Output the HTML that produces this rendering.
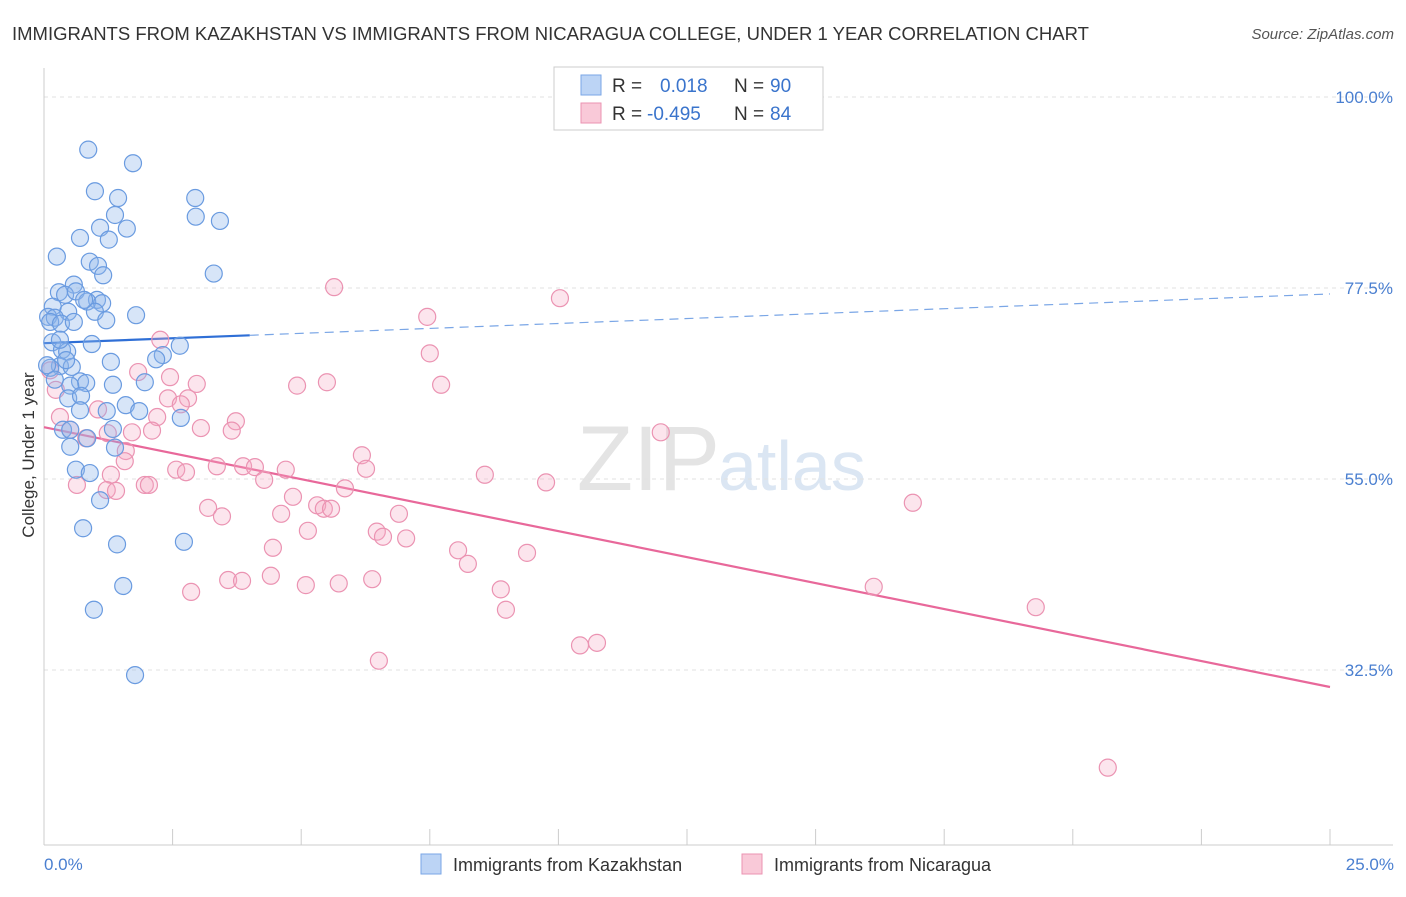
<!DOCTYPE html>
<html><head><meta charset="utf-8"><style>
body{margin:0;background:#fff;font-family:"Liberation Sans",sans-serif;}
svg text{font-family:"Liberation Sans",sans-serif;}
</style></head><body>
<svg id="chart" width="1406" height="892">
<text x="12" y="40" font-size="18.5" fill="#333">IMMIGRANTS FROM KAZAKHSTAN VS IMMIGRANTS FROM NICARAGUA COLLEGE, UNDER 1 YEAR CORRELATION CHART</text>
<text x="1394" y="39" font-size="15" fill="#555" text-anchor="end" font-style="italic">Source: ZipAtlas.com</text>
<text x="720" y="490" font-size="92" fill="#e4e4e4" text-anchor="end" font-family="Liberation Serif">ZIP</text>
<text x="718" y="490" font-size="70" fill="#dbe6f3">atlas</text>
<g id="grid"></g>
<g id="axes"></g>
<g id="trend"></g>
<g id="pts"></g>
<text transform="translate(34,455) rotate(-90)" font-size="17" fill="#333" text-anchor="middle">College, Under 1 year</text>
<text x="44" y="870" font-size="17" fill="#4a7fd0">0.0%</text>
<text x="1394" y="870" font-size="17" fill="#4a7fd0" text-anchor="end">25.0%</text>
<g>
<rect x="554" y="67" width="269" height="63" fill="#fff" stroke="#ccc"/>
<rect x="581" y="75" width="20" height="20" fill="#bcd4f5" stroke="#7aa6e6"/>
<rect x="581" y="103" width="20" height="20" fill="#f9c9d8" stroke="#eb93b2"/>
<text x="612" y="92" font-size="19" fill="#333">R =</text>
<text x="660" y="92" font-size="19" fill="#3a74cc">0.018</text>
<text x="734" y="92" font-size="19" fill="#333">N =</text>
<text x="770" y="92" font-size="19" fill="#3a74cc">90</text>
<text x="612" y="120" font-size="19" fill="#333">R =</text>
<text x="647" y="120" font-size="19" fill="#3a74cc">-0.495</text>
<text x="734" y="120" font-size="19" fill="#333">N =</text>
<text x="770" y="120" font-size="19" fill="#3a74cc">84</text>
</g>
<g>
<rect x="421" y="854" width="20" height="20" fill="#bcd4f5" stroke="#7aa6e6"/>
<text x="453" y="871" font-size="18" fill="#333">Immigrants from Kazakhstan</text>
<rect x="742" y="854" width="20" height="20" fill="#f9c9d8" stroke="#eb93b2"/>
<text x="774" y="871" font-size="18" fill="#333">Immigrants from Nicaragua</text>
</g>
</svg>
<script>
const yTicks=[100,77.5,55,32.5];
const yTickLabels=["100.0%","77.5%","55.0%","32.5%"];
const blueX=[0.86,1.73,0.99,1.44,2.94,1.38,2.95,3.42,1.09,1.61,0.70,1.26,0.25,0.89,1.05,3.30,1.15,0.58,0.29,0.41,0.62,1.03,0.84,1.13,1.79,0.17,0.47,0.99,1.21,0.08,0.21,0.12,0.33,0.58,0.93,0.16,0.35,0.45,2.64,2.31,2.18,1.30,0.31,0.12,0.54,0.70,0.82,0.51,1.96,1.34,0.47,0.72,1.59,1.22,1.85,0.70,0.37,0.51,2.66,0.84,1.34,0.51,1.38,0.62,0.89,1.09,0.76,1.42,2.72,1.54,0.97,1.77,0.06,0.21,0.43,0.78,0.31];
const blueY=[93.8,92.2,88.9,88.1,88.1,86.1,85.9,85.4,84.6,84.5,83.4,83.2,81.2,80.6,80.1,79.2,79.0,77.9,77.0,76.7,77.1,76.1,75.9,75.7,74.3,75.3,74.7,74.7,73.7,74.1,74.0,73.5,73.3,73.5,70.9,71.1,70.2,70.0,70.7,69.6,69.1,68.8,68.3,68.1,68.2,66.5,66.3,66.0,66.4,66.1,64.5,64.8,63.7,63.0,63.0,63.1,60.8,60.8,62.2,59.8,60.9,58.8,58.7,56.1,55.7,52.5,49.2,47.3,47.6,42.4,39.6,31.9,68.4,66.7,69.0,76.1,71.4];
const pinkX=[2.26,1.83,2.45,2.97,2.80,2.41,2.66,2.20,3.73,1.05,0.31,0.51,0.82,1.71,2.10,3.05,3.65,1.24,1.59,1.57,2.57,2.76,1.30,1.96,2.04,0.64,1.22,1.40,3.36,3.87,4.10,4.70,4.28,3.19,3.46,4.84,4.61,5.13,5.31,5.44,5.58,5.85,6.18,6.26,6.47,6.59,6.90,7.04,5.64,7.45,7.50,7.72,4.92,5.50,10.03,11.99,8.57,9.76,8.05,8.24,9.39,8.88,8.98,10.42,10.75,6.51,4.45,4.41,3.58,3.85,5.09,5.73,6.38,2.86,16.89,16.13,19.28,20.68,0.23,0.12];
const pinkY=[71.4,67.6,67.0,66.2,64.5,64.5,63.8,62.3,61.8,63.2,62.3,60.8,59.8,60.5,60.7,61.0,60.7,60.4,58.3,57.1,56.1,55.8,55.5,54.3,54.3,54.3,53.7,53.6,56.5,56.5,56.4,56.1,54.9,51.6,50.6,52.9,50.9,48.9,51.9,51.5,51.5,53.9,57.8,56.2,48.8,48.2,50.9,48.0,77.6,74.1,69.8,66.1,66.0,66.4,76.3,60.5,55.5,54.6,46.6,45.0,46.3,42.0,39.6,35.4,35.7,33.6,46.9,43.6,43.1,43.0,42.5,42.7,43.2,41.7,52.2,42.3,39.9,21.0,65.5,67.8];
const blueTrend=[71.0,76.8];
const pinkTrend=[61.1,30.5];
const sx=v=>44+v*51.44;
const sy=v=>97+(100-v)*8.489;
const NS="http://www.w3.org/2000/svg";
function mk(tag,attrs,parent){const e=document.createElementNS(NS,tag);for(const k in attrs)e.setAttribute(k,attrs[k]);document.getElementById(parent).appendChild(e);return e;}
yTicks.forEach((t,i)=>{
 const l=mk('line',{x1:44,x2:1393,y1:sy(t),y2:sy(t),stroke:'#e2e2e2','stroke-dasharray':'4,4'},'grid');
 
 
 const tx=mk('text',{x:1393,y:sy(t)+6,'font-size':17,fill:'#4a7fd0','text-anchor':'end'},'grid');
 tx.textContent=yTickLabels[i];
 
 
});
const ax=mk('line',{x1:44,x2:44,y1:68,y2:845,stroke:'#ccc'},'axes');


const bx=mk('line',{x1:44,x2:1393,y1:845,y2:845,stroke:'#ccc'},'axes');


for(let i=1;i<=10;i++){
 const t=mk('line',{x1:sx(i*2.5),x2:sx(i*2.5),y1:829,y2:845,stroke:'#ccc'},'axes');
 
 
}
function drawPts(xs,ys,fill,stroke,name){
 xs.forEach((x,i)=>{
  const c=mk('circle',{cx:sx(x),cy:sy(ys[i]),r:8.5,fill:fill,stroke:stroke,'stroke-width':1.2},'pts');
  
  
 });
}
drawPts(pinkX,pinkY,'rgba(246,170,196,0.3)','#eb93b2','nicaragua-point');
drawPts(blueX,blueY,'rgba(140,180,235,0.35)','#6a9be0','kazakhstan-point');
const bs=(blueTrend[1]-blueTrend[0])/25;
const b1=mk('line',{x1:sx(0),y1:sy(blueTrend[0]),x2:sx(4),y2:sy(blueTrend[0]+bs*4),stroke:'#2f6fd6','stroke-width':2.2},'trend');


const b2=mk('line',{x1:sx(4),y1:sy(blueTrend[0]+bs*4),x2:sx(25),y2:sy(blueTrend[1]),stroke:'#7aa6e6','stroke-width':1.2,'stroke-dasharray':'9,6'},'trend');


const p1=mk('line',{x1:sx(0),y1:sy(pinkTrend[0]),x2:sx(25),y2:sy(pinkTrend[1]),stroke:'#e8689a','stroke-width':2.2},'trend');


</script>
</body></html>
